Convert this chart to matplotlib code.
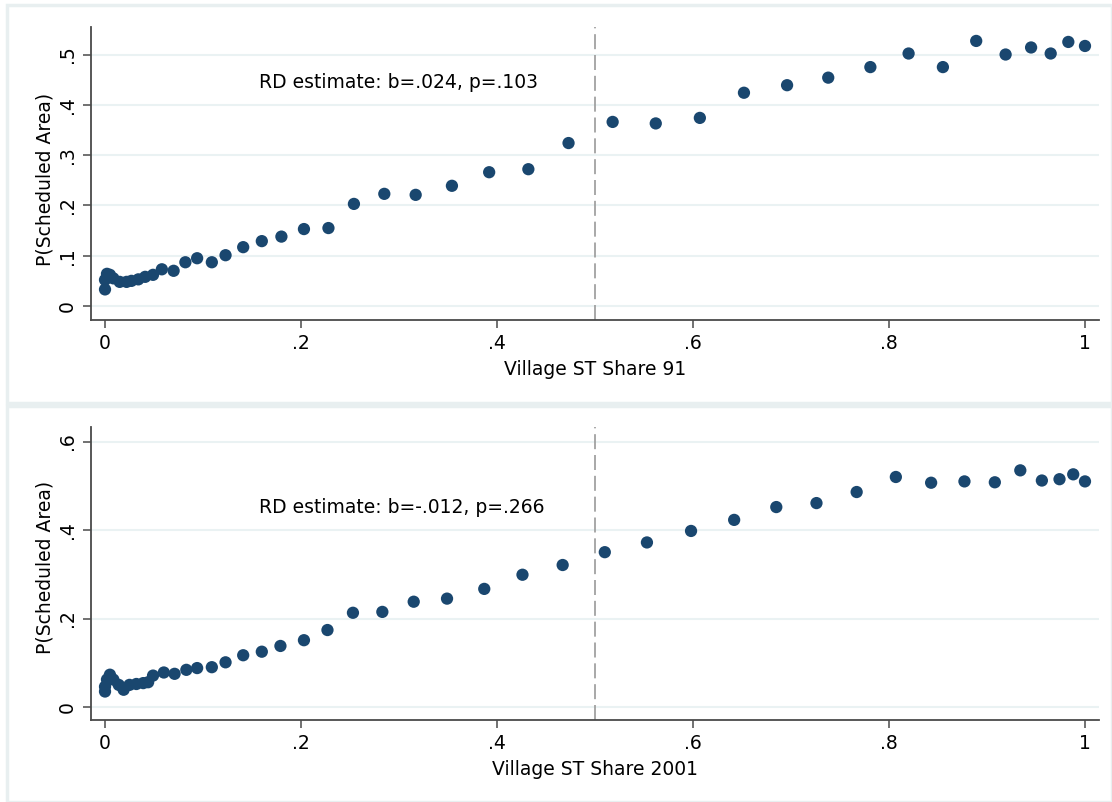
import matplotlib
matplotlib.use("Agg")
import matplotlib.pyplot as plt
from matplotlib.patches import Rectangle

plt.rcParams['font.family'] = ['DejaVu Sans']

# ---- data ----
x91 = [0.000, 0.000, 0.002, 0.005, 0.0085, 0.015, 0.022, 0.027, 0.034, 0.041,
       0.049, 0.058, 0.070, 0.082, 0.094, 0.109, 0.123, 0.141, 0.160, 0.180,
       0.203, 0.228, 0.254, 0.285, 0.317, 0.354, 0.392, 0.432, 0.473,
       0.518, 0.562, 0.607, 0.652, 0.696, 0.738, 0.781, 0.820, 0.855, 0.889,
       0.919, 0.945, 0.965, 0.983, 1.000]
y91 = [0.033, 0.052, 0.064, 0.062, 0.055, 0.048, 0.048, 0.050, 0.053, 0.058,
       0.062, 0.073, 0.070, 0.087, 0.095, 0.087, 0.101, 0.117, 0.129, 0.138,
       0.153, 0.155, 0.203, 0.223, 0.221, 0.239, 0.266, 0.272, 0.324,
       0.366, 0.363, 0.374, 0.424, 0.439, 0.454, 0.475, 0.502, 0.475, 0.527,
       0.500, 0.514, 0.502, 0.525, 0.517]

x01 = [0.000, 0.000, 0.002, 0.005, 0.0085, 0.014, 0.019, 0.025, 0.032, 0.039,
       0.044, 0.049, 0.060, 0.071, 0.083, 0.094, 0.109, 0.123, 0.141, 0.160,
       0.179, 0.203, 0.227, 0.253, 0.283, 0.315, 0.349, 0.387, 0.426, 0.467,
       0.510, 0.553, 0.598, 0.642, 0.685, 0.726, 0.767, 0.807, 0.843, 0.877,
       0.908, 0.934, 0.956, 0.974, 0.988, 1.000]
y01 = [0.035, 0.046, 0.062, 0.073, 0.062, 0.050, 0.039, 0.050, 0.052, 0.054,
       0.056, 0.071, 0.078, 0.075, 0.084, 0.088, 0.090, 0.101, 0.117, 0.125,
       0.138, 0.151, 0.174, 0.213, 0.215, 0.238, 0.245, 0.267, 0.299, 0.321,
       0.350, 0.372, 0.398, 0.423, 0.452, 0.461, 0.486, 0.520, 0.507, 0.510,
       0.508, 0.535, 0.512, 0.515, 0.526, 0.510]

xticks = [0, 0.2, 0.4, 0.6, 0.8, 1.0]
xticklabels = ["0", ".2", ".4", ".6", ".8", "1"]
yticks_top = [0, 0.1, 0.2, 0.3, 0.4, 0.5]
yticklabels_top = ["0", ".1", ".2", ".3", ".4", ".5"]
yticks_bot = [0, 0.2, 0.4, 0.6]
yticklabels_bot = ["0", ".2", ".4", ".6"]
ylabel = "P(Scheduled Area)"
xlabels = ["Village ST Share 91", "Village ST Share 2001"]
notes = ["RD estimate: b=.024, p=.103", "RD estimate: b=-.012, p=.266"]

NAVY = '#1a476f'
GRID = '#eaf2f3'
BORDER = '#e8eff0'
FS = 13.5

W, H = 1112, 802
fig = plt.figure(figsize=(W / 100, H / 100), dpi=100)
fig.patch.set_facecolor('white')

# panel borders (graph regions)
for (x0, y0, x1, y1) in [(7, 5, 1112, 403), (7, 406, 1112, 802)]:
    fig.add_artist(Rectangle((x0 / W, 1 - y1 / H), (x1 - x0) / W, (y1 - y0) / H,
                             transform=fig.transFigure, facecolor='white',
                             edgecolor=BORDER, lw=2.5, zorder=0))

def px_axes(left, top, right, bottom):
    return fig.add_axes([left / W, 1 - bottom / H, (right - left) / W, (bottom - top) / H])

ax1 = px_axes(91, 27, 1099, 320)
ax2 = px_axes(91, 427, 1099, 720)

def style(ax, xs, ys, yt, ytl, ylim, xl, note, note_y, ylab_y):
    ax.set_facecolor('none')
    ax.set_xlim(-0.0143, 1.0143)
    ax.set_ylim(*ylim)
    for yv in yt:
        ax.axhline(yv, color=GRID, lw=1.5, zorder=0)
    ax.axvline(0.5, color='#9a9a9a', lw=1.2, dashes=(9, 3.5), zorder=1)
    ax.scatter(xs, ys, s=78, color=NAVY, edgecolors='none', zorder=3)
    ax.set_xticks(xticks)
    ax.set_xticklabels(xticklabels)
    ax.set_yticks(yt)
    ax.set_yticklabels(ytl, rotation=90, va='center')
    for s in ['top', 'right']:
        ax.spines[s].set_visible(False)
    for s in ['left', 'bottom']:
        ax.spines[s].set_color('#4a4a4a')
        ax.spines[s].set_linewidth(1.3)
    ax.tick_params(direction='out', length=6, width=1.1, color='#4a4a4a',
                   labelsize=FS, labelcolor='black', pad=4)
    ax.set_ylabel(ylabel, fontsize=FS)
    ax.yaxis.set_label_coords(-0.036, ylab_y)
    ax.set_xlabel(xl, fontsize=FS, labelpad=5)
    ax.text(0.157, note_y, note, fontsize=FS, ha='left', va='center')

style(ax1, x91, y91, yticks_top, yticklabels_top, (-0.0278, 0.5547), xlabels[0], notes[0], 0.445, 0.48)
style(ax2, x01, y01, yticks_bot, yticklabels_bot, (-0.0294, 0.633), xlabels[1], notes[1], 0.45, 0.52)

fig.savefig('out.png', dpi=100)
